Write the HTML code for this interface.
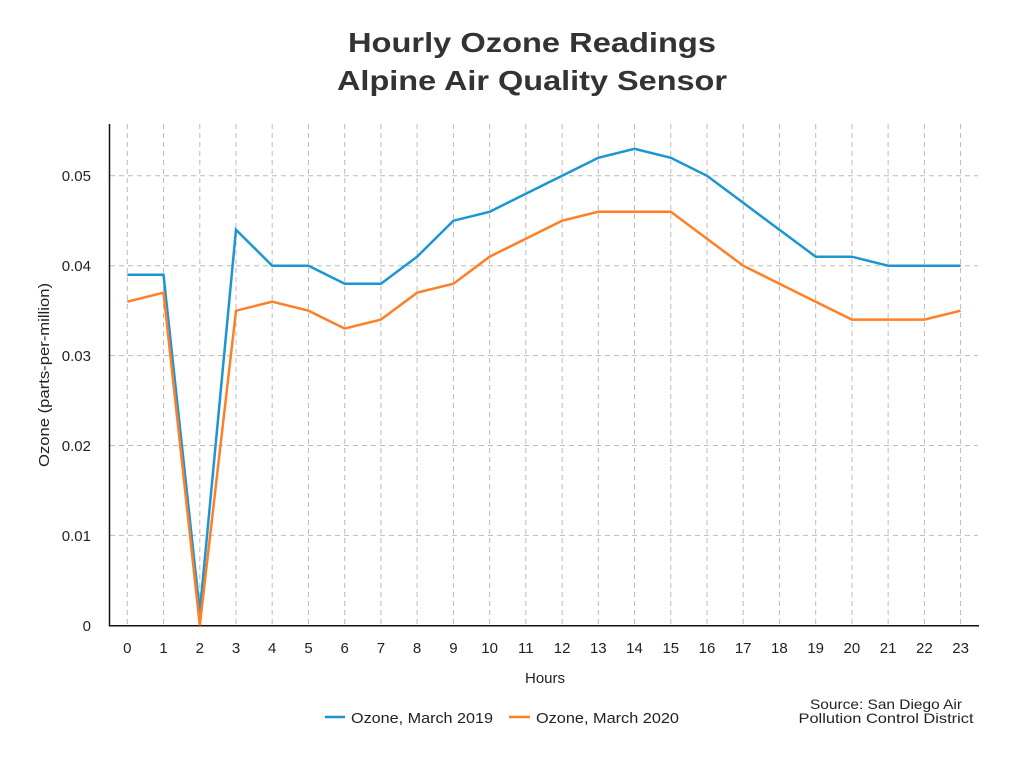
<!DOCTYPE html>
<html><head><meta charset="utf-8"><style>
html,body{margin:0;padding:0;background:#fff;}
svg{display:block;}
text{font-family:"Liberation Sans",sans-serif;}
</style></head><body>
<svg width="1024" height="768" viewBox="0 0 1024 768" xmlns="http://www.w3.org/2000/svg">
<rect width="1024" height="768" fill="#fff"/>
<text x="532" y="52" text-anchor="middle" font-size="28" font-weight="bold" fill="#333" textLength="368" lengthAdjust="spacingAndGlyphs">Hourly Ozone Readings</text>
<text x="532" y="90" text-anchor="middle" font-size="28" font-weight="bold" fill="#333" textLength="390" lengthAdjust="spacingAndGlyphs">Alpine Air Quality Sensor</text>
<g stroke="#bbb" stroke-width="1" stroke-dasharray="5,4" fill="none">
<line x1="110" y1="535.4" x2="978" y2="535.4"/>
<line x1="110" y1="445.5" x2="978" y2="445.5"/>
<line x1="110" y1="355.6" x2="978" y2="355.6"/>
<line x1="110" y1="265.7" x2="978" y2="265.7"/>
<line x1="110" y1="175.8" x2="978" y2="175.8"/>
<line x1="127.3" y1="124" x2="127.3" y2="625"/>
<line x1="163.5" y1="124" x2="163.5" y2="625"/>
<line x1="199.8" y1="124" x2="199.8" y2="625"/>
<line x1="236.0" y1="124" x2="236.0" y2="625"/>
<line x1="272.2" y1="124" x2="272.2" y2="625"/>
<line x1="308.5" y1="124" x2="308.5" y2="625"/>
<line x1="344.7" y1="124" x2="344.7" y2="625"/>
<line x1="380.9" y1="124" x2="380.9" y2="625"/>
<line x1="417.1" y1="124" x2="417.1" y2="625"/>
<line x1="453.4" y1="124" x2="453.4" y2="625"/>
<line x1="489.6" y1="124" x2="489.6" y2="625"/>
<line x1="525.8" y1="124" x2="525.8" y2="625"/>
<line x1="562.1" y1="124" x2="562.1" y2="625"/>
<line x1="598.3" y1="124" x2="598.3" y2="625"/>
<line x1="634.5" y1="124" x2="634.5" y2="625"/>
<line x1="670.8" y1="124" x2="670.8" y2="625"/>
<line x1="707.0" y1="124" x2="707.0" y2="625"/>
<line x1="743.2" y1="124" x2="743.2" y2="625"/>
<line x1="779.4" y1="124" x2="779.4" y2="625"/>
<line x1="815.7" y1="124" x2="815.7" y2="625"/>
<line x1="851.9" y1="124" x2="851.9" y2="625"/>
<line x1="888.1" y1="124" x2="888.1" y2="625"/>
<line x1="924.4" y1="124" x2="924.4" y2="625"/>
<line x1="960.6" y1="124" x2="960.6" y2="625"/>
</g>
<line x1="109.5" y1="124" x2="109.5" y2="626.5" stroke="#111" stroke-width="1.5"/>
<line x1="109" y1="625.8" x2="979" y2="625.8" stroke="#111" stroke-width="1.5"/>
<polyline fill="none" stroke="#1b95d3" stroke-width="2.5" stroke-linejoin="miter" points="127.3,274.7 163.5,274.7 199.8,611.8 236.0,229.7 272.2,265.7 308.5,265.7 344.7,283.7 380.9,283.7 417.1,256.7 453.4,220.7 489.6,211.8 525.8,193.8 562.1,175.8 598.3,157.8 634.5,148.8 670.8,157.8 707.0,175.8 743.2,202.8 779.4,229.7 815.7,256.7 851.9,256.7 888.1,265.7 924.4,265.7 960.6,265.7"/>
<polyline fill="none" stroke="#ff7f27" stroke-width="2.5" stroke-linejoin="miter" points="127.3,301.7 163.5,292.7 199.8,625.3 236.0,310.7 272.2,301.7 308.5,310.7 344.7,328.6 380.9,319.6 417.1,292.7 453.4,283.7 489.6,256.7 525.8,238.7 562.1,220.7 598.3,211.8 634.5,211.8 670.8,211.8 707.0,238.7 743.2,265.7 779.4,283.7 815.7,301.7 851.9,319.6 888.1,319.6 924.4,319.6 960.6,310.7"/>
<g font-size="15" fill="#222" text-anchor="end">
<text x="91" y="631">0</text>
<text x="91" y="541">0.01</text>
<text x="91" y="451">0.02</text>
<text x="91" y="361">0.03</text>
<text x="91" y="271">0.04</text>
<text x="91" y="181">0.05</text>
</g>
<g font-size="15" fill="#222" text-anchor="middle">
<text x="127.3" y="653">0</text>
<text x="163.5" y="653">1</text>
<text x="199.8" y="653">2</text>
<text x="236.0" y="653">3</text>
<text x="272.2" y="653">4</text>
<text x="308.5" y="653">5</text>
<text x="344.7" y="653">6</text>
<text x="380.9" y="653">7</text>
<text x="417.1" y="653">8</text>
<text x="453.4" y="653">9</text>
<text x="489.6" y="653">10</text>
<text x="525.8" y="653">11</text>
<text x="562.1" y="653">12</text>
<text x="598.3" y="653">13</text>
<text x="634.5" y="653">14</text>
<text x="670.8" y="653">15</text>
<text x="707.0" y="653">16</text>
<text x="743.2" y="653">17</text>
<text x="779.4" y="653">18</text>
<text x="815.7" y="653">19</text>
<text x="851.9" y="653">20</text>
<text x="888.1" y="653">21</text>
<text x="924.4" y="653">22</text>
<text x="960.6" y="653">23</text>
<text x="545" y="683">Hours</text>
</g>
<text transform="translate(49,375) rotate(-90)" font-size="15" fill="#222" text-anchor="middle" textLength="184" lengthAdjust="spacingAndGlyphs">Ozone (parts-per-million)</text>
<line x1="325" y1="717" x2="345" y2="717" stroke="#1b95d3" stroke-width="2.5"/>
<text x="351" y="723" font-size="15" fill="#222" textLength="142" lengthAdjust="spacingAndGlyphs">Ozone, March 2019</text>
<line x1="509" y1="717" x2="530" y2="717" stroke="#ff7f27" stroke-width="2.5"/>
<text x="536" y="723" font-size="15" fill="#222" textLength="143" lengthAdjust="spacingAndGlyphs">Ozone, March 2020</text>
<g font-size="14" fill="#222" text-anchor="middle">
<text x="886" y="709" textLength="152" lengthAdjust="spacingAndGlyphs">Source: San Diego Air</text>
<text x="886" y="723" textLength="175" lengthAdjust="spacingAndGlyphs">Pollution Control District</text>
</g>
</svg>
</body></html>
